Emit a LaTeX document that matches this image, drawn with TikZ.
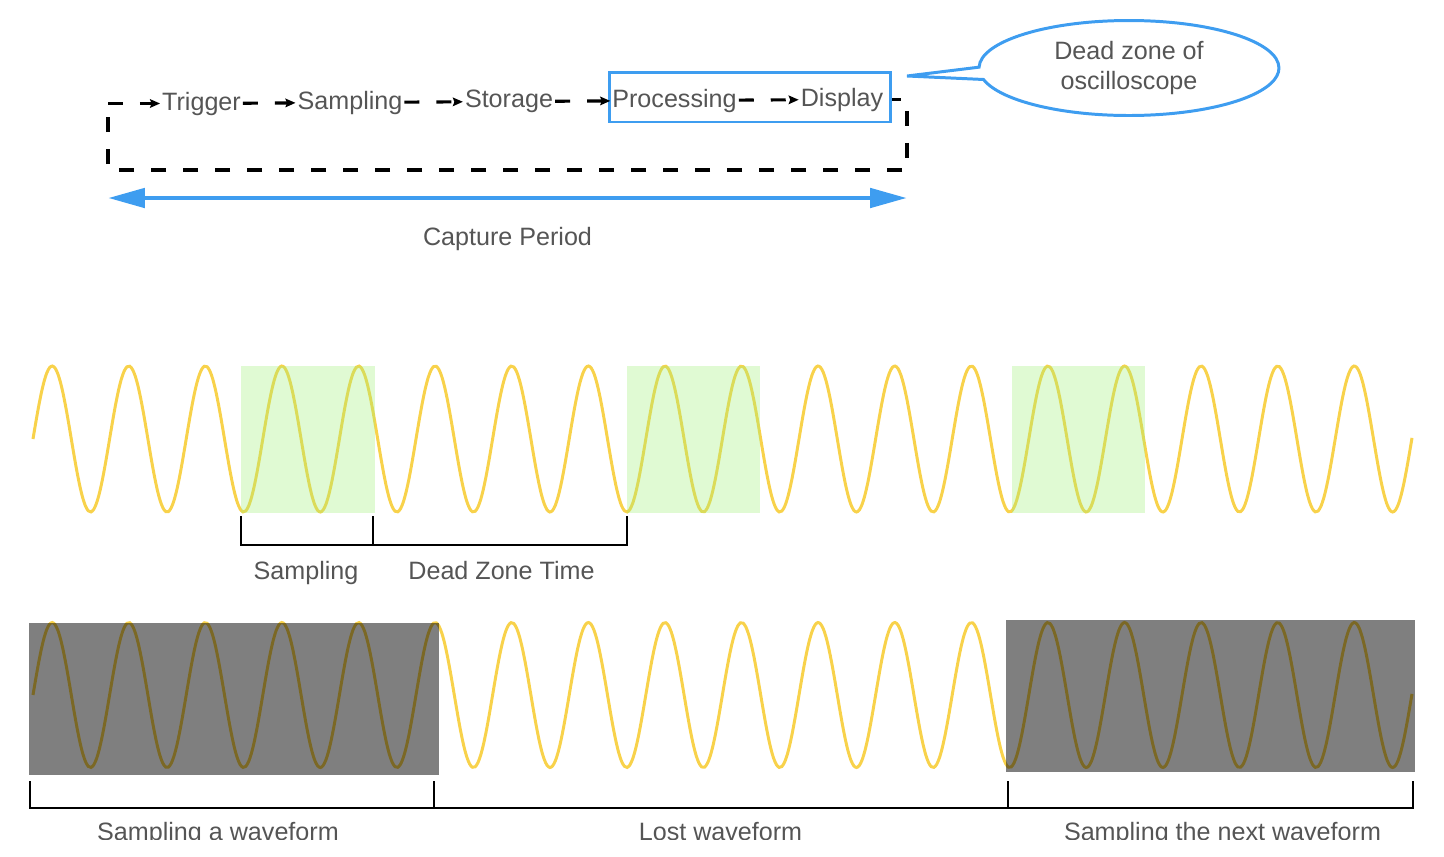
\documentclass[tikz,border=0pt]{standalone}
\usepackage{fontspec}
\setmainfont{Liberation Sans}
\definecolor{wavecol}{RGB}{248, 210, 75}
\definecolor{dzblue}{RGB}{62, 157, 240}
\definecolor{labelgray}{RGB}{85, 85, 85}
\definecolor{samplegreen}{RGB}{160, 240, 120}
\usepackage{tikz}
\usetikzlibrary{shapes.callouts,arrows.meta}

\begin{document}
\begin{tikzpicture}[x=0.02cm, y=-0.02cm,
    every node/.style={font=\fontsize{14.3}{17}\selectfont, text=labelgray},
    stage/.style={inner sep=1pt},
    flow/.style={black, line width=1.8pt, dash pattern=on 0.3cm off 0.34cm, -{Stealth[length=0.2cm, width=0.17cm, inset=0.03cm]}},
    loopline/.style={black, line width=1.8pt, dash pattern=on 0.3cm off 0.34cm},
    wave/.style={wavecol, line width=1.7pt},
    bracket/.style={black, line width=1.5pt},
    samplebox/.style={fill=samplegreen, fill opacity=0.33},
    capturebox/.style={fill=black, fill opacity=0.5}]
        \useasboundingbox (0,0) rectangle (1444,856);

        % Acquisition cycle
        \node[stage] (trig) at (201.5,103.5) {Trigger};
        \node[stage] (samp) at (350,102.5) {Sampling};
        \node[stage] (stor) at (509,101.5) {Storage};
        \node[stage] (proc) at (674.5,100.5) {Processing};
        \node[stage] (disp) at (842,99.5) {Display};
        \node[draw=dzblue, line width=1.7pt, minimum width=5.64cm, minimum height=1cm] (dzbox) at (750,97) {};
        \coordinate (loopstart) at (108,103.5);

        \draw[flow] (trig) -- (samp);
        \draw[flow] (samp) -- (stor);
        \draw[flow] (stor) -- (proc);
        \draw[flow] (proc) -- (disp);
        \draw[loopline, dash phase=0.12cm] (dzbox.east |- disp) -- (907,99.5) -- (907,170) -- (108,170) -- (loopstart);
        \draw[flow] (loopstart) -- (trig);

        % Dead zone callout
        \node[ellipse callout, draw=dzblue, line width=1.7pt, minimum width=6cm, minimum height=1.9cm, align=center, callout absolute pointer={(907,76)}] (dzcall) at (1129,68) {Dead zone of\\oscilloscope};

        % Capture period
        \coordinate (capL) at (108,198);
        \coordinate (capR) at (907,198);
        \draw[dzblue, line width=2.8pt, {Triangle[length=0.74cm, width=0.38cm]}-{Triangle[length=0.74cm, width=0.38cm]}] (capL) -- (capR);
        \node[anchor=base] (capture) at (507.5,245) {Capture Period};

        % Signal with sampling windows
        \draw[wave] plot[domain=33:1412, samples=500, smooth] (\x,{439-73*sin(4.6997*(\x-33))});
        \fill[samplebox] (241,366) rectangle (375,513);
        \fill[samplebox] (627,366) rectangle (760,513);
        \fill[samplebox] (1012,366) rectangle (1145,513);

        \draw[bracket] (241,516) -- (241,545) -- (627,545) -- (627,516);
        \draw[bracket] (373,516) -- (373,545);
        \node[anchor=base] (lblsamp) at (306,579) {Sampling};
        \node[anchor=base] (lbldead) at (501.5,579) {Dead Zone Time};

        % Captured and lost waveforms
        \draw[wave] plot[domain=33:1412, samples=500, smooth] (\x,{695-72.5*sin(4.6997*(\x-33))});
        \fill[capturebox] (29,623) rectangle (439,775);
        \fill[capturebox] (1006,620) rectangle (1415,772);

        \draw[bracket] (30,781) -- (30,808) -- (1413,808) -- (1413,781);
        \draw[bracket] (434,781) -- (434,808);
        \draw[bracket] (1008,781) -- (1008,808);
        \begin{scope}
          \clip (0,0) rectangle (1444,839);
          \node[anchor=base] (lblfirst) at (218,840) {Sampling a waveform};
          \node[anchor=base] (lbllost) at (720.5,840) {Lost waveform};
          \node[anchor=base] (lblnext) at (1222.5,840) {Sampling the next waveform};
        \end{scope}
      \end{tikzpicture}
\end{document}
